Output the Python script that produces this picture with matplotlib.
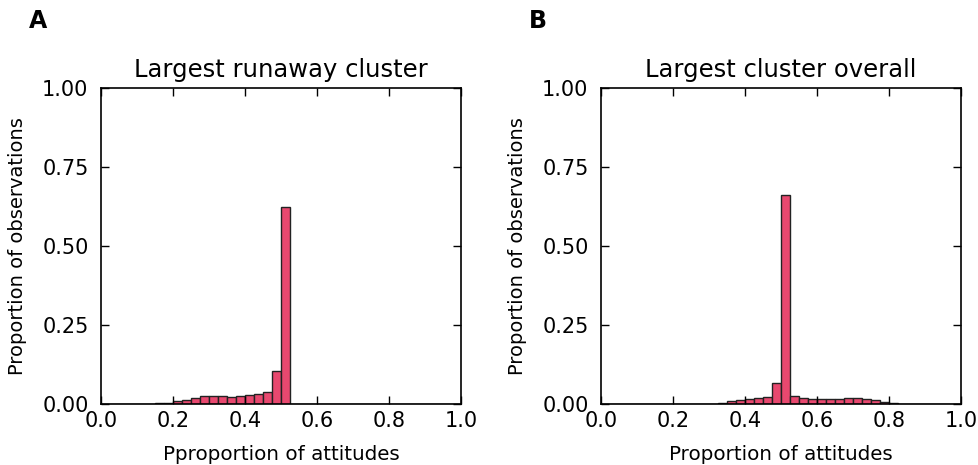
import numpy as np
import matplotlib
matplotlib.use("Agg")
import matplotlib.pyplot as plt

# bin width 0.025 on [0, 1]
bin_width = 0.025
bin_left = np.arange(40) * bin_width

runaway = [0, 0, 0, 0, 0.0005, 0.001, 0.002, 0.004, 0.008, 0.014,
           0.020, 0.024, 0.025, 0.024, 0.023, 0.026, 0.030, 0.032, 0.039, 0.103,
           0.622, 0, 0, 0, 0, 0, 0, 0, 0, 0,
           0, 0, 0, 0, 0, 0, 0, 0, 0, 0]

overall = [0, 0, 0, 0, 0, 0, 0, 0, 0, 0,
           0, 0, 0.001, 0.003, 0.009, 0.013, 0.016, 0.020, 0.022, 0.066,
           0.660, 0.025, 0.019, 0.016, 0.015, 0.015, 0.016, 0.019, 0.018, 0.016,
           0.012, 0.006, 0.003, 0.001, 0.0005, 0, 0, 0, 0, 0]

panels = [
    ("A", "Largest runaway cluster", "Pproportion of attitudes", runaway),
    ("B", "Largest cluster overall", "Proportion of attitudes", overall),
]

fig = plt.figure(figsize=(9.79, 4.65), dpi=100)
lefts = [0.1032, 0.6139]

for left, (letter, title, xlabel, heights) in zip(lefts, panels):
    ax = fig.add_axes([left, 0.1312, 0.3677, 0.6796])
    ax.bar(bin_left, heights, width=bin_width, align="edge",
           color="#E8486F", edgecolor="#222222", linewidth=1.0)
    ax.set_xlim(0, 1)
    ax.set_ylim(0, 1)
    ax.set_xticks([0, 0.2, 0.4, 0.6, 0.8, 1.0])
    ax.set_xticklabels(["0.0", "0.2", "0.4", "0.6", "0.8", "1.0"])
    ax.set_yticks([0, 0.25, 0.5, 0.75, 1.0])
    ax.set_yticklabels(["0.00", "0.25", "0.50", "0.75", "1.00"])
    ax.tick_params(direction="in", top=True, right=True, length=6,
                   width=1, labelsize=15)
    ax.tick_params(axis="y", pad=9)
    ax.tick_params(axis="x", pad=5)
    for s in ax.spines.values():
        s.set_linewidth(1.2)
    ax.set_title(title, fontsize=17.5, pad=8)
    ax.set_xlabel(xlabel, fontsize=14.3, labelpad=10)
    ax.set_ylabel("Proportion of observations", fontsize=14, labelpad=11)
    fig.text(left - 0.074, 0.955, letter, fontsize=17, fontweight="bold",
             va="center")

fig.savefig("out.png", dpi=100)
